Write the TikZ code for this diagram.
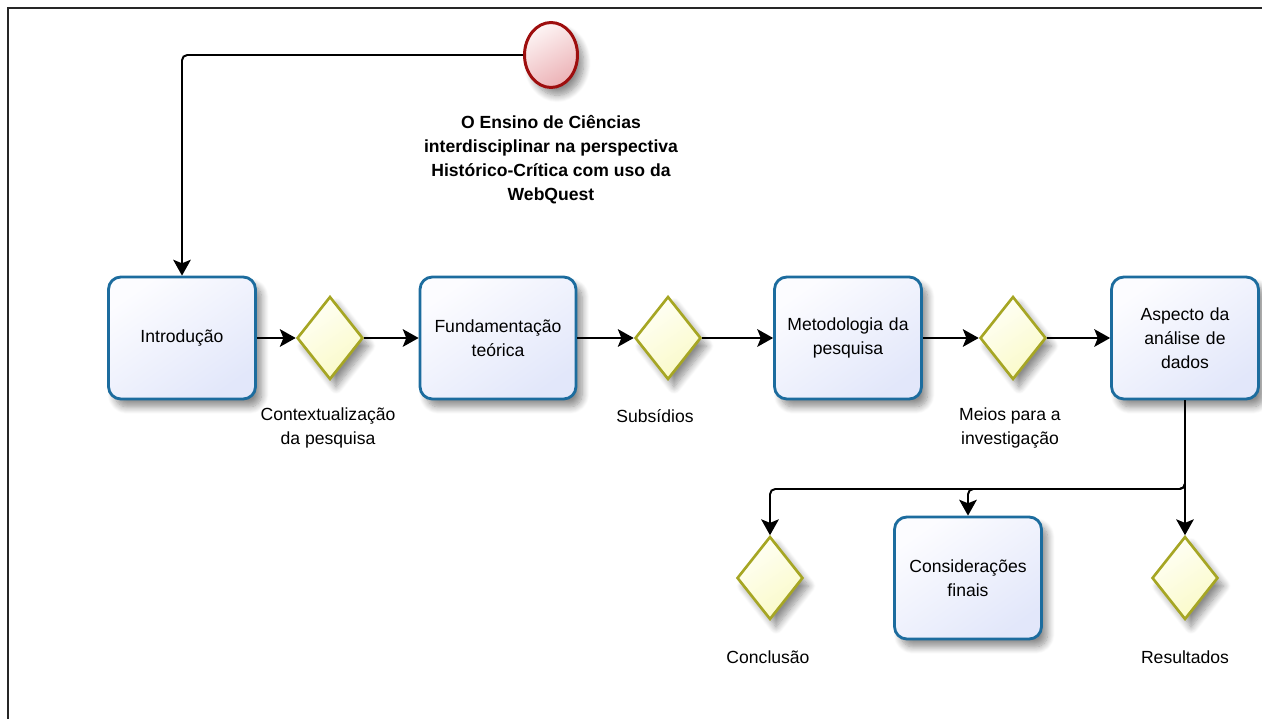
\documentclass[tikz,border=0pt]{standalone}
\usepackage{fontspec}
\setmainfont{Liberation Sans}
\usetikzlibrary{shapes.geometric,arrows.meta,shadows.blur,calc}

\definecolor{taskline}{RGB}{28,108,158}
\definecolor{tasktop}{RGB}{252,252,255}
\definecolor{taskbot}{RGB}{226,231,250}
\definecolor{gwline}{RGB}{166,166,36}
\definecolor{gwtop}{RGB}{255,255,246}
\definecolor{gwbot}{RGB}{250,250,200}
\definecolor{evline}{RGB}{158,14,14}
\definecolor{evtop}{RGB}{253,244,244}
\definecolor{evbot}{RGB}{236,178,182}
\definecolor{ghost}{RGB}{232,232,232}

\pgfdeclarelayer{bg}
\pgfsetlayers{bg,main}

\tikzset{
  softshadow/.style={blur shadow={shadow xshift=3.5pt, shadow yshift=-4.5pt,
      shadow blur radius=4pt, shadow blur steps=10, shadow opacity=45}},
  task/.style={draw=taskline, line width=1.6pt, rounded corners=7pt,
      minimum width=2.94cm, minimum height=2.44cm, text width=2.7cm,
      align=center, top color=tasktop, bottom color=taskbot, shading angle=35,
      softshadow, font=\fontsize{10}{13.6}\selectfont},
  widetask/.style={task, minimum width=3.12cm},
  gateway/.style={diamond, draw=gwline, line width=1.5pt, inner sep=0pt,
      minimum width=1.32cm, minimum height=1.66cm,
      top color=gwtop, bottom color=gwbot, shading angle=35, softshadow},
  startev/.style={ellipse, draw=evline, line width=1.7pt, inner sep=0pt,
      minimum width=1.06cm, minimum height=1.3cm,
      top color=evtop, bottom color=evbot, shading angle=30, softshadow},
  lbl/.style={align=center, font=\fontsize{10}{13.6}\selectfont},
  flow/.style={line width=1.1pt, rounded corners=3pt,
      -{Stealth[length=9pt,width=10pt,inset=2pt]}},
  ghostflow/.style={flow, draw=ghost, color=ghost},
}

\begin{document}
\begin{tikzpicture}[x=0.02cm, y=-0.02cm]
  \useasboundingbox (0,0) rectangle (1262,719);

  % page frame
  \draw[line width=1.2pt, black!85] (8,719) -- (8,8) -- (1262,8);

  % start event and process title
  \node[startev] (start) at (551,55) {};
  \node[font=\bfseries\fontsize{10}{13.6}\selectfont, align=center] (title)
      at (551,160) {O Ensino de Ciências\\interdisciplinar na perspectiva\\Histórico-Crítica com uso da\\WebQuest};

  % tasks
  \node[task]     (intro) at (182,338) {Introdução};
  \node[widetask] (fund)  at (498,338) {Fundamentação\\teórica};
  \node[task]     (met)   at (848,338) {Metodologia da\\pesquisa};
  \node[task]     (asp)   at (1185,338) {Aspecto da\\análise de\\dados};
  \node[task]     (cons)  at (968,578) {Considerações\\finais};

  % gateways
  \node[gateway] (gw1) at (330,338) {};
  \node[gateway] (gw2) at (668,338) {};
  \node[gateway] (gw3) at (1013,338) {};
  \node[gateway] (concl) at (770,578) {};
  \node[gateway] (res) at (1185,578) {};

  % gateway captions
  \node[lbl] (l1) at (328,428) {Contextualização\\da pesquisa};
  \node[lbl] (l2) at (655,416) {Subsídios};
  \node[lbl] (l3) at (1010,428) {Meios para a\\investigação};
  \node[lbl] (l4) at (768,657) {Conclusão};
  \node[lbl] (l5) at (1185,657) {Resultados};

  \coordinate (split) at (1185,489);

  % faint connector shadows
  \begin{pgfonlayer}{bg}
    \begin{scope}[shift={(17,21)}]
      \draw[ghostflow] (start.west) -| (intro.north);
      \draw[ghostflow] (intro.east) -- (gw1.west);
      \draw[ghostflow] (gw1.east) -- (fund.west);
      \draw[ghostflow] (fund.east) -- (gw2.west);
      \draw[ghostflow] (gw2.east) -- (met.west);
      \draw[ghostflow] (met.east) -- (gw3.west);
      \draw[ghostflow] (gw3.east) -- (asp.west);
      \draw[ghostflow] (asp.south) -- (res.north);
      \draw[ghostflow] (asp.south) -- (split) -| (cons.north);
      \draw[ghostflow] (asp.south) -- (split) -| (concl.north);
    \end{scope}
  \end{pgfonlayer}

  % sequence flows
  \draw[flow] (start.west) -| (intro.north);
  \draw[flow] (intro.east) -- (gw1.west);
  \draw[flow] (gw1.east) -- (fund.west);
  \draw[flow] (fund.east) -- (gw2.west);
  \draw[flow] (gw2.east) -- (met.west);
  \draw[flow] (met.east) -- (gw3.west);
  \draw[flow] (gw3.east) -- (asp.west);
  \draw[flow] (asp.south) -- (res.north);
  \draw[flow] (asp.south) -- (split) -| (cons.north);
  \draw[flow] (asp.south) -- (split) -| (concl.north);
\end{tikzpicture}
\end{document}
